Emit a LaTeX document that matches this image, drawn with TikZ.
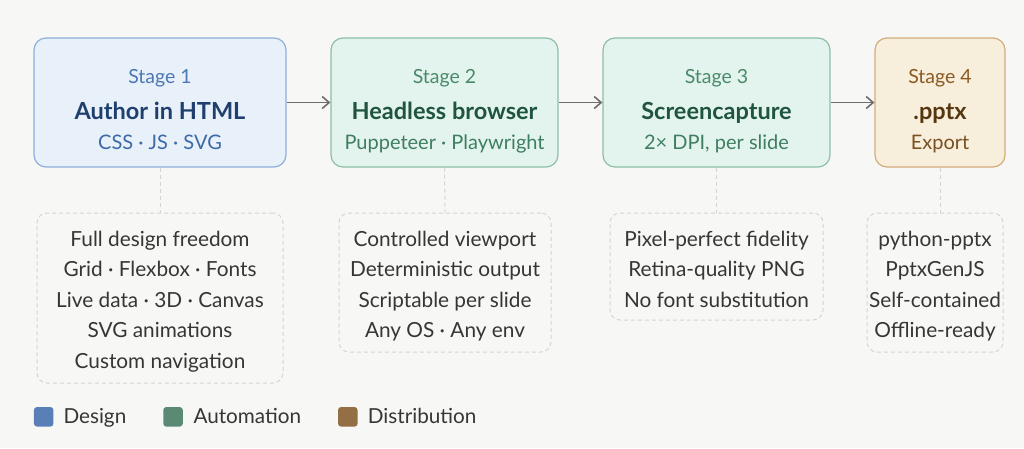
\documentclass[tikz,border=0pt]{standalone}
\usepackage{fontspec}
\setmainfont{Lato}
\usetikzlibrary{arrows.meta}
\definecolor{bg}{HTML}{F7F7F5}
\definecolor{bluefill}{HTML}{E8F0FA}
\definecolor{blueline}{HTML}{8EAEDB}
\definecolor{bluestage}{HTML}{4C78B2}
\definecolor{bluetitle}{HTML}{1F3F6E}
\definecolor{bluesub}{HTML}{3D6AA6}
\definecolor{greenfill}{HTML}{E3F4EE}
\definecolor{greenline}{HTML}{8CBFA6}
\definecolor{greenstage}{HTML}{4A8A6A}
\definecolor{greentitle}{HTML}{1F553E}
\definecolor{greensub}{HTML}{3F7E60}
\definecolor{tanfill}{HTML}{F8EEDC}
\definecolor{tanline}{HTML}{D3AC7A}
\definecolor{tanstage}{HTML}{8A5A22}
\definecolor{tantitle}{HTML}{55360F}
\definecolor{tansub}{HTML}{7A5020}
\definecolor{arrowgray}{HTML}{6E6E6E}
\definecolor{dashgray}{HTML}{D4D4D2}
\definecolor{detailtext}{HTML}{363636}
\definecolor{swblue}{HTML}{5A7FB6}
\definecolor{swgreen}{HTML}{5A8A74}
\definecolor{swtan}{HTML}{946E45}
\tikzset{
  stagebox/.style={rounded corners=12pt, line width=1.2pt, minimum height=129pt, inner sep=0pt},
  stagetxt/.style={anchor=base, inner sep=0pt, font=\fontsize{19.5}{20}\selectfont},
  titletxt/.style={anchor=base, inner sep=0pt, font=\fontsize{23.5}{24}\selectfont\bfseries},
  subtxt/.style={anchor=base, inner sep=0pt, font=\fontsize{20}{21}\selectfont},
  detailbox/.style={draw=dashgray, dashed, dash pattern=on 4pt off 3pt, rounded corners=10pt, line width=1pt, inner sep=0pt},
  detailtxt/.style={anchor=base, inner sep=0pt, text=detailtext, font=\fontsize{20.8}{21}\selectfont},
  flow/.style={draw=arrowgray, line width=1.8pt, -{Straight Barb[length=7pt,width=12pt,line width=1.6pt]}},
  link/.style={draw=dashgray, line width=1pt, dash pattern=on 4pt off 3pt},
  swatch/.style={minimum width=19.5pt, minimum height=19.5pt, rounded corners=3pt, inner sep=0pt},
  legtxt/.style={anchor=base west, inner sep=0pt, text=detailtext, font=\fontsize{20.7}{21}\selectfont}
}
\begin{document}
\begin{tikzpicture}[x=1pt,y=-1pt]
\fill[bg] (0,0) rectangle (1024,448);
\useasboundingbox (0,0) rectangle (1024,448);

% stage boxes
\node[stagebox, fill=bluefill, draw=blueline, minimum width=252pt] (s1) at (160,102.5) {};
\node[stagebox, fill=greenfill, draw=greenline, minimum width=227pt] (s2) at (444.5,102.5) {};
\node[stagebox, fill=greenfill, draw=greenline, minimum width=227pt] (s3) at (716.5,102.5) {};
\node[stagebox, fill=tanfill, draw=tanline, minimum width=130pt] (s4) at (940,102.5) {};

\node[stagetxt, text=bluestage] (s1a) at (160,83) {Stage 1};
\node[titletxt, text=bluetitle] (s1b) at (160,119) {Author in HTML};
\node[subtxt, text=bluesub] (s1c) at (160,149) {CSS · JS · SVG};

\node[stagetxt, text=greenstage] (s2a) at (444.5,83) {Stage 2};
\node[titletxt, text=greentitle] (s2b) at (444.5,119) {Headless browser};
\node[subtxt, text=greensub] (s2c) at (444.5,149) {Puppeteer · Playwright};

\node[stagetxt, text=greenstage] (s3a) at (716.5,83) {Stage 3};
\node[titletxt, text=greentitle] (s3b) at (716.5,119) {Screencapture};
\node[subtxt, text=greensub] (s3c) at (716.5,149) {2× DPI, per slide};

\node[stagetxt, text=tanstage] (s4a) at (940,83) {Stage 4};
\node[titletxt, text=tantitle] (s4b) at (940,119) {.pptx};
\node[subtxt, text=tansub] (s4c) at (940,149) {Export};

% flow arrows
\draw[flow] (s1.east) -- (s2.west);
\draw[flow] (s2.east) -- (s3.west);
\draw[flow] (s3.east) -- (s4.west);

% detail boxes
\node[detailbox, minimum width=246pt, minimum height=170pt] (d1) at (160,298) {};
\node[detailbox, minimum width=212pt, minimum height=139pt] (d2) at (445,282.5) {};
\node[detailbox, minimum width=213pt, minimum height=107pt] (d3) at (716.5,266.5) {};
\node[detailbox, minimum width=136pt, minimum height=139pt] (d4) at (935,282.5) {};

\draw[link] (s1.south) -- (d1.north);
\draw[link] (s2.south) -- (d2.north);
\draw[link] (s3.south) -- (d3.north);
\draw[link] (s4.south) -- (s4.south |- d4.north);

\node[detailtxt] (d1a) at (160,246) {Full design freedom};
\node[detailtxt] (d1b) at (160,276.6) {Grid · Flexbox · Fonts};
\node[detailtxt] (d1c) at (160,307.2) {Live data · 3D · Canvas};
\node[detailtxt] (d1d) at (160,337.8) {SVG animations};
\node[detailtxt] (d1e) at (160,368.4) {Custom navigation};

\node[detailtxt] (d2a) at (445,246) {Controlled viewport};
\node[detailtxt] (d2b) at (445,276.6) {Deterministic output};
\node[detailtxt] (d2c) at (445,307.2) {Scriptable per slide};
\node[detailtxt] (d2d) at (445,337.8) {Any OS · Any env};

\node[detailtxt] (d3a) at (716.5,246) {Pixel-perfect fidelity};
\node[detailtxt] (d3b) at (716.5,276.6) {Retina-quality PNG};
\node[detailtxt] (d3c) at (716.5,307.2) {No font substitution};

\node[detailtxt] (d4a) at (935,246) {python-pptx};
\node[detailtxt] (d4b) at (935,276.6) {PptxGenJS};
\node[detailtxt] (d4c) at (935,307.2) {Self-contained};
\node[detailtxt] (d4d) at (935,337.8) {Offline-ready};

% legend
\node[swatch, fill=swblue] (l1) at (43.7,416.8) {};
\node[legtxt] (l1t) at (63.3,423.5) {Design};
\node[swatch, fill=swgreen] (l2) at (173,416.8) {};
\node[legtxt] (l2t) at (193.3,423.5) {Automation};
\node[swatch, fill=swtan] (l3) at (347.8,416.8) {};
\node[legtxt] (l3t) at (367.7,423.5) {Distribution};
\end{tikzpicture}
\end{document}
